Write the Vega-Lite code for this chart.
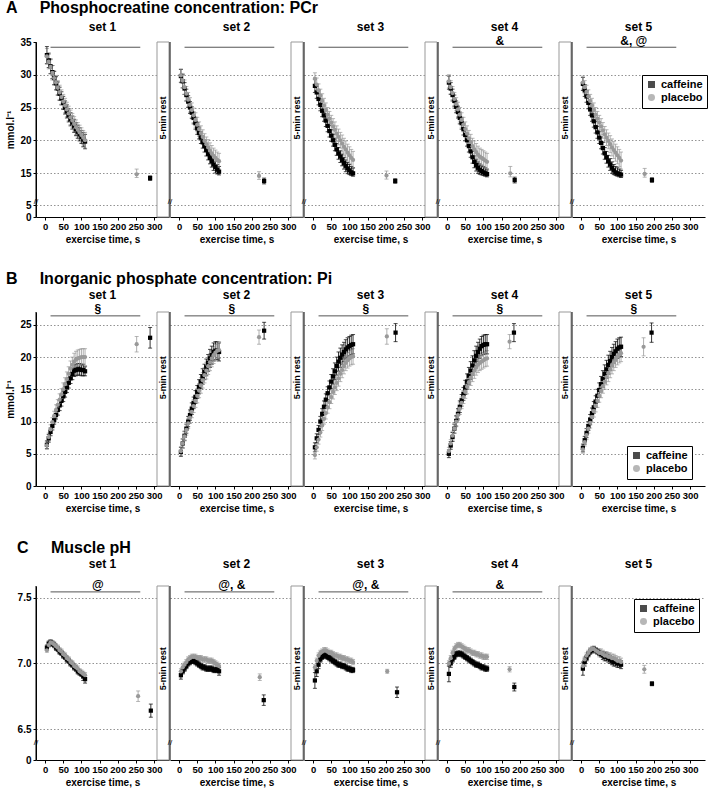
{
"$schema":"https://vega.github.io/schema/vega-lite/v6.json",
"padding":{"left":5,"top":0,"right":0,"bottom":0},
"datasets":{
"pcr":[
{"s":1,"k":"p","box":1,"bar":1,"sig":""},{"s":2,"k":"p","box":1,"bar":1,"sig":""},{"s":3,"k":"p","box":1,"bar":1,"sig":""},{"s":4,"k":"p","box":1,"bar":1,"sig":"&"},{"s":5,"k":"p","box":0,"bar":1,"sig":"&, @"},
{"s":1,"g":"caffeine","t":5,"v":33.0,"e":1.3},{"s":1,"g":"caffeine","t":10,"v":32.2,"e":1.1},{"s":1,"g":"caffeine","t":15,"v":31.3,"e":1.1},{"s":1,"g":"caffeine","t":20,"v":30.4,"e":1.0},{"s":1,"g":"caffeine","t":25,"v":29.5,"e":1.0},{"s":1,"g":"caffeine","t":30,"v":28.7,"e":1.0},{"s":1,"g":"caffeine","t":35,"v":27.9,"e":1.0},{"s":1,"g":"caffeine","t":40,"v":27.1,"e":1.0},{"s":1,"g":"caffeine","t":45,"v":26.4,"e":1.0},{"s":1,"g":"caffeine","t":50,"v":25.7,"e":1.0},{"s":1,"g":"caffeine","t":55,"v":25.0,"e":1.0},{"s":1,"g":"caffeine","t":60,"v":24.4,"e":1.0},{"s":1,"g":"caffeine","t":65,"v":23.8,"e":1.0},{"s":1,"g":"caffeine","t":70,"v":23.2,"e":1.0},{"s":1,"g":"caffeine","t":75,"v":22.7,"e":1.0},{"s":1,"g":"caffeine","t":80,"v":22.2,"e":1.0},{"s":1,"g":"caffeine","t":85,"v":21.7,"e":1.0},{"s":1,"g":"caffeine","t":90,"v":21.3,"e":1.0},{"s":1,"g":"caffeine","t":95,"v":20.9,"e":1.0},{"s":1,"g":"caffeine","t":100,"v":20.5,"e":1.0},{"s":1,"g":"caffeine","t":105,"v":20.1,"e":1.1},{"s":1,"g":"caffeine","t":110,"v":19.8,"e":1.1},{"s":1,"g":"caffeine","t":289,"v":13.4,"e":0.7},
{"s":1,"g":"placebo","t":5,"v":32.8,"e":1.2},{"s":1,"g":"placebo","t":10,"v":32.0,"e":1.1},{"s":1,"g":"placebo","t":15,"v":31.2,"e":1.1},{"s":1,"g":"placebo","t":20,"v":30.3,"e":1.1},{"s":1,"g":"placebo","t":25,"v":29.5,"e":1.1},{"s":1,"g":"placebo","t":30,"v":28.8,"e":1.1},{"s":1,"g":"placebo","t":35,"v":28.0,"e":1.1},{"s":1,"g":"placebo","t":40,"v":27.3,"e":1.1},{"s":1,"g":"placebo","t":45,"v":26.6,"e":1.1},{"s":1,"g":"placebo","t":50,"v":25.9,"e":1.1},{"s":1,"g":"placebo","t":55,"v":25.3,"e":1.1},{"s":1,"g":"placebo","t":60,"v":24.7,"e":1.1},{"s":1,"g":"placebo","t":65,"v":24.1,"e":1.1},{"s":1,"g":"placebo","t":70,"v":23.5,"e":1.1},{"s":1,"g":"placebo","t":75,"v":23.0,"e":1.1},{"s":1,"g":"placebo","t":80,"v":22.5,"e":1.1},{"s":1,"g":"placebo","t":85,"v":22.0,"e":1.1},{"s":1,"g":"placebo","t":90,"v":21.6,"e":1.1},{"s":1,"g":"placebo","t":95,"v":21.2,"e":1.1},{"s":1,"g":"placebo","t":100,"v":20.8,"e":1.1},{"s":1,"g":"placebo","t":105,"v":20.4,"e":1.1},{"s":1,"g":"placebo","t":110,"v":20.0,"e":1.2},{"s":1,"g":"placebo","t":252,"v":14.6,"e":1.0},
{"s":2,"g":"caffeine","t":5,"v":29.8,"e":1.0},{"s":2,"g":"caffeine","t":10,"v":29.0,"e":1.0},{"s":2,"g":"caffeine","t":15,"v":27.9,"e":0.9},{"s":2,"g":"caffeine","t":20,"v":26.9,"e":0.9},{"s":2,"g":"caffeine","t":25,"v":25.9,"e":0.9},{"s":2,"g":"caffeine","t":30,"v":25.0,"e":0.9},{"s":2,"g":"caffeine","t":35,"v":24.2,"e":0.9},{"s":2,"g":"caffeine","t":40,"v":23.4,"e":0.9},{"s":2,"g":"caffeine","t":45,"v":22.6,"e":0.9},{"s":2,"g":"caffeine","t":50,"v":21.8,"e":0.9},{"s":2,"g":"caffeine","t":55,"v":21.1,"e":0.9},{"s":2,"g":"caffeine","t":60,"v":20.4,"e":0.9},{"s":2,"g":"caffeine","t":65,"v":19.7,"e":0.9},{"s":2,"g":"caffeine","t":70,"v":19.1,"e":0.9},{"s":2,"g":"caffeine","t":75,"v":18.5,"e":0.9},{"s":2,"g":"caffeine","t":80,"v":17.9,"e":0.9},{"s":2,"g":"caffeine","t":85,"v":17.3,"e":0.9},{"s":2,"g":"caffeine","t":90,"v":16.8,"e":0.9},{"s":2,"g":"caffeine","t":95,"v":16.3,"e":0.9},{"s":2,"g":"caffeine","t":100,"v":15.9,"e":0.9},{"s":2,"g":"caffeine","t":105,"v":15.5,"e":0.8},{"s":2,"g":"caffeine","t":110,"v":15.2,"e":0.8},{"s":2,"g":"caffeine","t":234,"v":12.5,"e":0.9},
{"s":2,"g":"placebo","t":5,"v":29.9,"e":1.0},{"s":2,"g":"placebo","t":10,"v":29.1,"e":1.1},{"s":2,"g":"placebo","t":15,"v":28.1,"e":1.1},{"s":2,"g":"placebo","t":20,"v":27.1,"e":1.1},{"s":2,"g":"placebo","t":25,"v":26.2,"e":1.1},{"s":2,"g":"placebo","t":30,"v":25.4,"e":1.1},{"s":2,"g":"placebo","t":35,"v":24.6,"e":1.1},{"s":2,"g":"placebo","t":40,"v":23.8,"e":1.1},{"s":2,"g":"placebo","t":45,"v":23.1,"e":1.1},{"s":2,"g":"placebo","t":50,"v":22.4,"e":1.1},{"s":2,"g":"placebo","t":55,"v":21.7,"e":1.1},{"s":2,"g":"placebo","t":60,"v":21.1,"e":1.1},{"s":2,"g":"placebo","t":65,"v":20.5,"e":1.1},{"s":2,"g":"placebo","t":70,"v":19.9,"e":1.1},{"s":2,"g":"placebo","t":75,"v":19.4,"e":1.1},{"s":2,"g":"placebo","t":80,"v":18.9,"e":1.2},{"s":2,"g":"placebo","t":85,"v":18.4,"e":1.2},{"s":2,"g":"placebo","t":90,"v":18.0,"e":1.2},{"s":2,"g":"placebo","t":95,"v":17.6,"e":1.2},{"s":2,"g":"placebo","t":100,"v":17.3,"e":1.2},{"s":2,"g":"placebo","t":105,"v":17.0,"e":1.2},{"s":2,"g":"placebo","t":110,"v":16.8,"e":1.2},{"s":2,"g":"placebo","t":220,"v":14.1,"e":1.1},
{"s":3,"g":"caffeine","t":5,"v":28.3,"e":1.0},{"s":3,"g":"caffeine","t":10,"v":27.3,"e":0.9},{"s":3,"g":"caffeine","t":15,"v":26.3,"e":0.9},{"s":3,"g":"caffeine","t":20,"v":25.4,"e":0.9},{"s":3,"g":"caffeine","t":25,"v":24.5,"e":0.9},{"s":3,"g":"caffeine","t":30,"v":23.8,"e":0.9},{"s":3,"g":"caffeine","t":35,"v":23.0,"e":0.9},{"s":3,"g":"caffeine","t":40,"v":22.2,"e":0.9},{"s":3,"g":"caffeine","t":45,"v":21.4,"e":0.9},{"s":3,"g":"caffeine","t":50,"v":20.7,"e":0.9},{"s":3,"g":"caffeine","t":55,"v":20.0,"e":0.9},{"s":3,"g":"caffeine","t":60,"v":19.3,"e":0.9},{"s":3,"g":"caffeine","t":65,"v":18.6,"e":0.9},{"s":3,"g":"caffeine","t":70,"v":18.0,"e":0.9},{"s":3,"g":"caffeine","t":75,"v":17.5,"e":0.9},{"s":3,"g":"caffeine","t":80,"v":17.0,"e":0.9},{"s":3,"g":"caffeine","t":85,"v":16.5,"e":0.9},{"s":3,"g":"caffeine","t":90,"v":16.1,"e":0.9},{"s":3,"g":"caffeine","t":95,"v":15.7,"e":0.9},{"s":3,"g":"caffeine","t":100,"v":15.4,"e":0.9},{"s":3,"g":"caffeine","t":105,"v":15.1,"e":0.9},{"s":3,"g":"caffeine","t":110,"v":14.9,"e":0.9},{"s":3,"g":"caffeine","t":226,"v":12.5,"e":0.7},
{"s":3,"g":"placebo","t":5,"v":29.4,"e":0.9},{"s":3,"g":"placebo","t":10,"v":28.5,"e":1.0},{"s":3,"g":"placebo","t":15,"v":27.6,"e":1.0},{"s":3,"g":"placebo","t":20,"v":26.8,"e":1.0},{"s":3,"g":"placebo","t":25,"v":26.0,"e":1.1},{"s":3,"g":"placebo","t":30,"v":25.3,"e":1.1},{"s":3,"g":"placebo","t":35,"v":24.6,"e":1.1},{"s":3,"g":"placebo","t":40,"v":23.9,"e":1.1},{"s":3,"g":"placebo","t":45,"v":23.3,"e":1.1},{"s":3,"g":"placebo","t":50,"v":22.7,"e":1.1},{"s":3,"g":"placebo","t":55,"v":22.1,"e":1.2},{"s":3,"g":"placebo","t":60,"v":21.6,"e":1.2},{"s":3,"g":"placebo","t":65,"v":21.0,"e":1.2},{"s":3,"g":"placebo","t":70,"v":20.5,"e":1.2},{"s":3,"g":"placebo","t":75,"v":20.0,"e":1.2},{"s":3,"g":"placebo","t":80,"v":19.5,"e":1.3},{"s":3,"g":"placebo","t":85,"v":19.0,"e":1.3},{"s":3,"g":"placebo","t":90,"v":18.6,"e":1.3},{"s":3,"g":"placebo","t":95,"v":18.1,"e":1.3},{"s":3,"g":"placebo","t":100,"v":17.7,"e":1.3},{"s":3,"g":"placebo","t":105,"v":17.3,"e":1.3},{"s":3,"g":"placebo","t":110,"v":17.0,"e":1.3},{"s":3,"g":"placebo","t":202,"v":14.2,"e":1.1},
{"s":4,"g":"caffeine","t":5,"v":28.8,"e":1.0},{"s":4,"g":"caffeine","t":10,"v":27.9,"e":0.9},{"s":4,"g":"caffeine","t":15,"v":26.9,"e":0.9},{"s":4,"g":"caffeine","t":20,"v":26.0,"e":0.9},{"s":4,"g":"caffeine","t":25,"v":25.1,"e":0.9},{"s":4,"g":"caffeine","t":30,"v":24.3,"e":0.9},{"s":4,"g":"caffeine","t":35,"v":23.4,"e":0.9},{"s":4,"g":"caffeine","t":40,"v":22.6,"e":0.9},{"s":4,"g":"caffeine","t":45,"v":21.7,"e":0.9},{"s":4,"g":"caffeine","t":50,"v":20.8,"e":0.9},{"s":4,"g":"caffeine","t":55,"v":20.0,"e":0.9},{"s":4,"g":"caffeine","t":60,"v":19.1,"e":0.9},{"s":4,"g":"caffeine","t":65,"v":18.3,"e":0.9},{"s":4,"g":"caffeine","t":70,"v":17.4,"e":0.9},{"s":4,"g":"caffeine","t":75,"v":16.7,"e":0.9},{"s":4,"g":"caffeine","t":80,"v":16.2,"e":0.9},{"s":4,"g":"caffeine","t":85,"v":15.8,"e":0.9},{"s":4,"g":"caffeine","t":90,"v":15.5,"e":0.9},{"s":4,"g":"caffeine","t":95,"v":15.3,"e":0.9},{"s":4,"g":"caffeine","t":100,"v":15.1,"e":0.9},{"s":4,"g":"caffeine","t":105,"v":14.9,"e":0.9},{"s":4,"g":"caffeine","t":110,"v":14.7,"e":0.9},{"s":4,"g":"caffeine","t":186,"v":12.8,"e":0.9},
{"s":4,"g":"placebo","t":5,"v":29.0,"e":1.0},{"s":4,"g":"placebo","t":10,"v":28.1,"e":1.0},{"s":4,"g":"placebo","t":15,"v":27.2,"e":1.0},{"s":4,"g":"placebo","t":20,"v":26.3,"e":1.0},{"s":4,"g":"placebo","t":25,"v":25.5,"e":1.0},{"s":4,"g":"placebo","t":30,"v":24.7,"e":1.1},{"s":4,"g":"placebo","t":35,"v":23.9,"e":1.1},{"s":4,"g":"placebo","t":40,"v":23.1,"e":1.1},{"s":4,"g":"placebo","t":45,"v":22.4,"e":1.1},{"s":4,"g":"placebo","t":50,"v":21.7,"e":1.1},{"s":4,"g":"placebo","t":55,"v":21.0,"e":1.2},{"s":4,"g":"placebo","t":60,"v":20.3,"e":1.2},{"s":4,"g":"placebo","t":65,"v":19.7,"e":1.2},{"s":4,"g":"placebo","t":70,"v":19.1,"e":1.2},{"s":4,"g":"placebo","t":75,"v":18.6,"e":1.3},{"s":4,"g":"placebo","t":80,"v":18.2,"e":1.3},{"s":4,"g":"placebo","t":85,"v":17.8,"e":1.3},{"s":4,"g":"placebo","t":90,"v":17.5,"e":1.3},{"s":4,"g":"placebo","t":95,"v":17.3,"e":1.3},{"s":4,"g":"placebo","t":100,"v":17.1,"e":1.3},{"s":4,"g":"placebo","t":105,"v":16.9,"e":1.3},{"s":4,"g":"placebo","t":110,"v":16.7,"e":1.3},{"s":4,"g":"placebo","t":174,"v":14.9,"e":1.1},
{"s":5,"g":"caffeine","t":5,"v":28.6,"e":1.0},{"s":5,"g":"caffeine","t":10,"v":27.6,"e":0.9},{"s":5,"g":"caffeine","t":15,"v":26.7,"e":0.9},{"s":5,"g":"caffeine","t":20,"v":25.7,"e":0.9},{"s":5,"g":"caffeine","t":25,"v":24.7,"e":0.9},{"s":5,"g":"caffeine","t":30,"v":23.8,"e":0.9},{"s":5,"g":"caffeine","t":35,"v":22.9,"e":0.9},{"s":5,"g":"caffeine","t":40,"v":22.0,"e":0.9},{"s":5,"g":"caffeine","t":45,"v":21.2,"e":0.9},{"s":5,"g":"caffeine","t":50,"v":20.4,"e":0.9},{"s":5,"g":"caffeine","t":55,"v":19.6,"e":0.9},{"s":5,"g":"caffeine","t":60,"v":18.8,"e":0.9},{"s":5,"g":"caffeine","t":65,"v":18.0,"e":0.9},{"s":5,"g":"caffeine","t":70,"v":17.4,"e":0.9},{"s":5,"g":"caffeine","t":75,"v":16.8,"e":0.9},{"s":5,"g":"caffeine","t":80,"v":16.3,"e":0.9},{"s":5,"g":"caffeine","t":85,"v":15.8,"e":0.9},{"s":5,"g":"caffeine","t":90,"v":15.4,"e":0.9},{"s":5,"g":"caffeine","t":95,"v":15.1,"e":0.9},{"s":5,"g":"caffeine","t":100,"v":14.9,"e":0.9},{"s":5,"g":"caffeine","t":105,"v":14.7,"e":0.9},{"s":5,"g":"caffeine","t":110,"v":14.5,"e":0.9},{"s":5,"g":"caffeine","t":195,"v":12.8,"e":0.7},
{"s":5,"g":"placebo","t":5,"v":28.8,"e":1.0},{"s":5,"g":"placebo","t":10,"v":28.1,"e":1.0},{"s":5,"g":"placebo","t":15,"v":27.4,"e":1.0},{"s":5,"g":"placebo","t":20,"v":26.7,"e":1.0},{"s":5,"g":"placebo","t":25,"v":26.0,"e":1.0},{"s":5,"g":"placebo","t":30,"v":25.3,"e":1.1},{"s":5,"g":"placebo","t":35,"v":24.6,"e":1.1},{"s":5,"g":"placebo","t":40,"v":23.9,"e":1.1},{"s":5,"g":"placebo","t":45,"v":23.3,"e":1.1},{"s":5,"g":"placebo","t":50,"v":22.7,"e":1.1},{"s":5,"g":"placebo","t":55,"v":22.1,"e":1.2},{"s":5,"g":"placebo","t":60,"v":21.5,"e":1.2},{"s":5,"g":"placebo","t":65,"v":20.9,"e":1.2},{"s":5,"g":"placebo","t":70,"v":20.4,"e":1.2},{"s":5,"g":"placebo","t":75,"v":19.9,"e":1.2},{"s":5,"g":"placebo","t":80,"v":19.4,"e":1.3},{"s":5,"g":"placebo","t":85,"v":18.9,"e":1.3},{"s":5,"g":"placebo","t":90,"v":18.5,"e":1.3},{"s":5,"g":"placebo","t":95,"v":18.1,"e":1.3},{"s":5,"g":"placebo","t":100,"v":17.7,"e":1.3},{"s":5,"g":"placebo","t":105,"v":17.3,"e":1.3},{"s":5,"g":"placebo","t":110,"v":16.9,"e":1.3},{"s":5,"g":"placebo","t":175,"v":14.7,"e":1.0}
],
"pi":[
{"s":1,"k":"p","box":1,"bar":1,"sig":"§"},{"s":2,"k":"p","box":1,"bar":1,"sig":"§"},{"s":3,"k":"p","box":1,"bar":1,"sig":"§"},{"s":4,"k":"p","box":1,"bar":1,"sig":"§"},{"s":5,"k":"p","box":0,"bar":1,"sig":"§"},
{"s":1,"g":"caffeine","t":5,"v":6.4,"e":0.6},{"s":1,"g":"caffeine","t":10,"v":7.4,"e":0.6},{"s":1,"g":"caffeine","t":15,"v":8.4,"e":0.6},{"s":1,"g":"caffeine","t":20,"v":9.3,"e":0.6},{"s":1,"g":"caffeine","t":25,"v":10.2,"e":0.6},{"s":1,"g":"caffeine","t":30,"v":11.0,"e":0.6},{"s":1,"g":"caffeine","t":35,"v":11.8,"e":0.8},{"s":1,"g":"caffeine","t":40,"v":12.5,"e":0.8},{"s":1,"g":"caffeine","t":45,"v":13.2,"e":0.8},{"s":1,"g":"caffeine","t":50,"v":13.9,"e":0.8},{"s":1,"g":"caffeine","t":55,"v":14.6,"e":0.8},{"s":1,"g":"caffeine","t":60,"v":15.3,"e":0.8},{"s":1,"g":"caffeine","t":65,"v":16.0,"e":0.8},{"s":1,"g":"caffeine","t":70,"v":16.7,"e":0.8},{"s":1,"g":"caffeine","t":75,"v":17.4,"e":0.9},{"s":1,"g":"caffeine","t":80,"v":17.9,"e":0.9},{"s":1,"g":"caffeine","t":85,"v":18.0,"e":0.9},{"s":1,"g":"caffeine","t":90,"v":18.1,"e":0.9},{"s":1,"g":"caffeine","t":95,"v":18.1,"e":0.9},{"s":1,"g":"caffeine","t":100,"v":18.0,"e":0.9},{"s":1,"g":"caffeine","t":105,"v":18.0,"e":0.9},{"s":1,"g":"caffeine","t":110,"v":17.8,"e":0.7},{"s":1,"g":"caffeine","t":289,"v":23.0,"e":1.6},
{"s":1,"g":"placebo","t":5,"v":6.3,"e":0.6},{"s":1,"g":"placebo","t":10,"v":7.6,"e":0.6},{"s":1,"g":"placebo","t":15,"v":8.8,"e":0.7},{"s":1,"g":"placebo","t":20,"v":9.9,"e":0.7},{"s":1,"g":"placebo","t":25,"v":10.9,"e":0.7},{"s":1,"g":"placebo","t":30,"v":11.8,"e":0.8},{"s":1,"g":"placebo","t":35,"v":12.6,"e":0.8},{"s":1,"g":"placebo","t":40,"v":13.4,"e":0.9},{"s":1,"g":"placebo","t":45,"v":14.2,"e":0.9},{"s":1,"g":"placebo","t":50,"v":15.0,"e":1.0},{"s":1,"g":"placebo","t":55,"v":15.8,"e":1.0},{"s":1,"g":"placebo","t":60,"v":16.6,"e":1.1},{"s":1,"g":"placebo","t":65,"v":17.4,"e":1.1},{"s":1,"g":"placebo","t":70,"v":18.2,"e":1.2},{"s":1,"g":"placebo","t":75,"v":18.8,"e":1.2},{"s":1,"g":"placebo","t":80,"v":19.3,"e":1.3},{"s":1,"g":"placebo","t":85,"v":19.6,"e":1.3},{"s":1,"g":"placebo","t":90,"v":19.8,"e":1.3},{"s":1,"g":"placebo","t":95,"v":19.9,"e":1.3},{"s":1,"g":"placebo","t":100,"v":20.0,"e":1.3},{"s":1,"g":"placebo","t":105,"v":20.0,"e":1.3},{"s":1,"g":"placebo","t":110,"v":20.0,"e":1.3},{"s":1,"g":"placebo","t":252,"v":22.0,"e":1.2},
{"s":2,"g":"caffeine","t":5,"v":5.3,"e":0.7},{"s":2,"g":"caffeine","t":10,"v":6.6,"e":0.7},{"s":2,"g":"caffeine","t":15,"v":7.8,"e":0.7},{"s":2,"g":"caffeine","t":20,"v":8.9,"e":0.7},{"s":2,"g":"caffeine","t":25,"v":10.0,"e":0.8},{"s":2,"g":"caffeine","t":30,"v":11.0,"e":0.8},{"s":2,"g":"caffeine","t":35,"v":12.0,"e":0.9},{"s":2,"g":"caffeine","t":40,"v":12.9,"e":0.9},{"s":2,"g":"caffeine","t":45,"v":13.8,"e":1.0},{"s":2,"g":"caffeine","t":50,"v":14.6,"e":1.0},{"s":2,"g":"caffeine","t":55,"v":15.4,"e":1.1},{"s":2,"g":"caffeine","t":60,"v":16.2,"e":1.1},{"s":2,"g":"caffeine","t":65,"v":17.0,"e":1.2},{"s":2,"g":"caffeine","t":70,"v":17.7,"e":1.2},{"s":2,"g":"caffeine","t":75,"v":18.4,"e":1.3},{"s":2,"g":"caffeine","t":80,"v":19.1,"e":1.3},{"s":2,"g":"caffeine","t":85,"v":19.8,"e":1.4},{"s":2,"g":"caffeine","t":90,"v":20.3,"e":1.4},{"s":2,"g":"caffeine","t":95,"v":20.8,"e":1.4},{"s":2,"g":"caffeine","t":100,"v":21.0,"e":1.4},{"s":2,"g":"caffeine","t":105,"v":21.0,"e":1.4},{"s":2,"g":"caffeine","t":110,"v":20.8,"e":1.4},{"s":2,"g":"caffeine","t":234,"v":24.1,"e":1.3},
{"s":2,"g":"placebo","t":5,"v":5.4,"e":0.7},{"s":2,"g":"placebo","t":10,"v":6.6,"e":0.7},{"s":2,"g":"placebo","t":15,"v":7.7,"e":0.7},{"s":2,"g":"placebo","t":20,"v":8.7,"e":0.8},{"s":2,"g":"placebo","t":25,"v":9.7,"e":0.8},{"s":2,"g":"placebo","t":30,"v":10.6,"e":0.9},{"s":2,"g":"placebo","t":35,"v":11.5,"e":0.9},{"s":2,"g":"placebo","t":40,"v":12.4,"e":1.0},{"s":2,"g":"placebo","t":45,"v":13.2,"e":1.0},{"s":2,"g":"placebo","t":50,"v":14.0,"e":1.1},{"s":2,"g":"placebo","t":55,"v":14.8,"e":1.1},{"s":2,"g":"placebo","t":60,"v":15.6,"e":1.2},{"s":2,"g":"placebo","t":65,"v":16.4,"e":1.2},{"s":2,"g":"placebo","t":70,"v":17.2,"e":1.2},{"s":2,"g":"placebo","t":75,"v":17.9,"e":1.3},{"s":2,"g":"placebo","t":80,"v":18.6,"e":1.3},{"s":2,"g":"placebo","t":85,"v":19.2,"e":1.3},{"s":2,"g":"placebo","t":90,"v":19.8,"e":1.3},{"s":2,"g":"placebo","t":95,"v":20.3,"e":1.3},{"s":2,"g":"placebo","t":100,"v":20.7,"e":1.3},{"s":2,"g":"placebo","t":105,"v":21.0,"e":1.3},{"s":2,"g":"placebo","t":110,"v":21.1,"e":1.3},{"s":2,"g":"placebo","t":220,"v":23.1,"e":1.1},
{"s":3,"g":"caffeine","t":5,"v":6.0,"e":0.7},{"s":3,"g":"caffeine","t":10,"v":7.4,"e":0.7},{"s":3,"g":"caffeine","t":15,"v":8.7,"e":0.7},{"s":3,"g":"caffeine","t":20,"v":10.0,"e":0.8},{"s":3,"g":"caffeine","t":25,"v":11.2,"e":0.8},{"s":3,"g":"caffeine","t":30,"v":12.3,"e":0.9},{"s":3,"g":"caffeine","t":35,"v":13.4,"e":0.9},{"s":3,"g":"caffeine","t":40,"v":14.4,"e":1.0},{"s":3,"g":"caffeine","t":45,"v":15.3,"e":1.0},{"s":3,"g":"caffeine","t":50,"v":16.2,"e":1.1},{"s":3,"g":"caffeine","t":55,"v":17.0,"e":1.2},{"s":3,"g":"caffeine","t":60,"v":17.8,"e":1.3},{"s":3,"g":"caffeine","t":65,"v":18.6,"e":1.4},{"s":3,"g":"caffeine","t":70,"v":19.3,"e":1.5},{"s":3,"g":"caffeine","t":75,"v":19.9,"e":1.5},{"s":3,"g":"caffeine","t":80,"v":20.4,"e":1.5},{"s":3,"g":"caffeine","t":85,"v":20.8,"e":1.5},{"s":3,"g":"caffeine","t":90,"v":21.2,"e":1.5},{"s":3,"g":"caffeine","t":95,"v":21.5,"e":1.5},{"s":3,"g":"caffeine","t":100,"v":21.7,"e":1.5},{"s":3,"g":"caffeine","t":105,"v":21.9,"e":1.5},{"s":3,"g":"caffeine","t":110,"v":22.0,"e":1.5},{"s":3,"g":"caffeine","t":227,"v":23.8,"e":1.4},
{"s":3,"g":"placebo","t":5,"v":4.8,"e":0.6},{"s":3,"g":"placebo","t":10,"v":6.0,"e":0.6},{"s":3,"g":"placebo","t":15,"v":7.2,"e":0.7},{"s":3,"g":"placebo","t":20,"v":8.3,"e":0.7},{"s":3,"g":"placebo","t":25,"v":9.4,"e":0.8},{"s":3,"g":"placebo","t":30,"v":10.4,"e":0.8},{"s":3,"g":"placebo","t":35,"v":11.3,"e":0.9},{"s":3,"g":"placebo","t":40,"v":12.2,"e":0.9},{"s":3,"g":"placebo","t":45,"v":13.0,"e":1.0},{"s":3,"g":"placebo","t":50,"v":13.8,"e":1.0},{"s":3,"g":"placebo","t":55,"v":14.6,"e":1.1},{"s":3,"g":"placebo","t":60,"v":15.3,"e":1.1},{"s":3,"g":"placebo","t":65,"v":16.0,"e":1.2},{"s":3,"g":"placebo","t":70,"v":16.7,"e":1.2},{"s":3,"g":"placebo","t":75,"v":17.4,"e":1.2},{"s":3,"g":"placebo","t":80,"v":18.0,"e":1.2},{"s":3,"g":"placebo","t":85,"v":18.6,"e":1.2},{"s":3,"g":"placebo","t":90,"v":19.1,"e":1.2},{"s":3,"g":"placebo","t":95,"v":19.5,"e":1.2},{"s":3,"g":"placebo","t":100,"v":19.8,"e":1.2},{"s":3,"g":"placebo","t":105,"v":20.0,"e":1.2},{"s":3,"g":"placebo","t":110,"v":20.1,"e":1.2},{"s":3,"g":"placebo","t":203,"v":23.2,"e":1.2},
{"s":4,"g":"caffeine","t":5,"v":5.0,"e":0.6},{"s":4,"g":"caffeine","t":10,"v":6.3,"e":0.6},{"s":4,"g":"caffeine","t":15,"v":7.6,"e":0.7},{"s":4,"g":"caffeine","t":20,"v":8.9,"e":0.7},{"s":4,"g":"caffeine","t":25,"v":10.1,"e":0.8},{"s":4,"g":"caffeine","t":30,"v":11.2,"e":0.8},{"s":4,"g":"caffeine","t":35,"v":12.3,"e":0.9},{"s":4,"g":"caffeine","t":40,"v":13.3,"e":0.9},{"s":4,"g":"caffeine","t":45,"v":14.3,"e":1.0},{"s":4,"g":"caffeine","t":50,"v":15.3,"e":1.1},{"s":4,"g":"caffeine","t":55,"v":16.2,"e":1.2},{"s":4,"g":"caffeine","t":60,"v":17.1,"e":1.3},{"s":4,"g":"caffeine","t":65,"v":17.9,"e":1.4},{"s":4,"g":"caffeine","t":70,"v":18.7,"e":1.5},{"s":4,"g":"caffeine","t":75,"v":19.5,"e":1.5},{"s":4,"g":"caffeine","t":80,"v":20.2,"e":1.5},{"s":4,"g":"caffeine","t":85,"v":20.8,"e":1.5},{"s":4,"g":"caffeine","t":90,"v":21.3,"e":1.5},{"s":4,"g":"caffeine","t":95,"v":21.7,"e":1.5},{"s":4,"g":"caffeine","t":100,"v":21.9,"e":1.5},{"s":4,"g":"caffeine","t":105,"v":22.0,"e":1.5},{"s":4,"g":"caffeine","t":110,"v":22.0,"e":1.5},{"s":4,"g":"caffeine","t":184,"v":23.8,"e":1.4},
{"s":4,"g":"placebo","t":5,"v":5.4,"e":0.6},{"s":4,"g":"placebo","t":10,"v":6.6,"e":0.6},{"s":4,"g":"placebo","t":15,"v":7.8,"e":0.7},{"s":4,"g":"placebo","t":20,"v":8.9,"e":0.7},{"s":4,"g":"placebo","t":25,"v":10.0,"e":0.8},{"s":4,"g":"placebo","t":30,"v":11.0,"e":0.8},{"s":4,"g":"placebo","t":35,"v":12.0,"e":0.9},{"s":4,"g":"placebo","t":40,"v":12.9,"e":0.9},{"s":4,"g":"placebo","t":45,"v":13.8,"e":1.0},{"s":4,"g":"placebo","t":50,"v":14.6,"e":1.0},{"s":4,"g":"placebo","t":55,"v":15.4,"e":1.1},{"s":4,"g":"placebo","t":60,"v":16.1,"e":1.1},{"s":4,"g":"placebo","t":65,"v":16.8,"e":1.2},{"s":4,"g":"placebo","t":70,"v":17.4,"e":1.2},{"s":4,"g":"placebo","t":75,"v":17.9,"e":1.2},{"s":4,"g":"placebo","t":80,"v":18.4,"e":1.2},{"s":4,"g":"placebo","t":85,"v":18.8,"e":1.2},{"s":4,"g":"placebo","t":90,"v":19.1,"e":1.2},{"s":4,"g":"placebo","t":95,"v":19.3,"e":1.2},{"s":4,"g":"placebo","t":100,"v":19.5,"e":1.2},{"s":4,"g":"placebo","t":105,"v":19.7,"e":1.2},{"s":4,"g":"placebo","t":110,"v":19.8,"e":1.2},{"s":4,"g":"placebo","t":172,"v":22.4,"e":1.1},
{"s":5,"g":"caffeine","t":5,"v":5.9,"e":0.6},{"s":5,"g":"caffeine","t":10,"v":7.1,"e":0.6},{"s":5,"g":"caffeine","t":15,"v":8.2,"e":0.7},{"s":5,"g":"caffeine","t":20,"v":9.3,"e":0.7},{"s":5,"g":"caffeine","t":25,"v":10.3,"e":0.8},{"s":5,"g":"caffeine","t":30,"v":11.3,"e":0.8},{"s":5,"g":"caffeine","t":35,"v":12.2,"e":0.9},{"s":5,"g":"caffeine","t":40,"v":13.1,"e":0.9},{"s":5,"g":"caffeine","t":45,"v":14.0,"e":1.0},{"s":5,"g":"caffeine","t":50,"v":14.9,"e":1.1},{"s":5,"g":"caffeine","t":55,"v":15.8,"e":1.2},{"s":5,"g":"caffeine","t":60,"v":16.6,"e":1.3},{"s":5,"g":"caffeine","t":65,"v":17.4,"e":1.4},{"s":5,"g":"caffeine","t":70,"v":18.1,"e":1.4},{"s":5,"g":"caffeine","t":75,"v":18.8,"e":1.5},{"s":5,"g":"caffeine","t":80,"v":19.4,"e":1.5},{"s":5,"g":"caffeine","t":85,"v":20.0,"e":1.5},{"s":5,"g":"caffeine","t":90,"v":20.5,"e":1.5},{"s":5,"g":"caffeine","t":95,"v":20.9,"e":1.5},{"s":5,"g":"caffeine","t":100,"v":21.3,"e":1.5},{"s":5,"g":"caffeine","t":105,"v":21.5,"e":1.5},{"s":5,"g":"caffeine","t":110,"v":21.6,"e":1.5},{"s":5,"g":"caffeine","t":194,"v":23.8,"e":1.5},
{"s":5,"g":"placebo","t":5,"v":5.7,"e":0.6},{"s":5,"g":"placebo","t":10,"v":6.8,"e":0.6},{"s":5,"g":"placebo","t":15,"v":7.9,"e":0.7},{"s":5,"g":"placebo","t":20,"v":8.9,"e":0.7},{"s":5,"g":"placebo","t":25,"v":9.8,"e":0.8},{"s":5,"g":"placebo","t":30,"v":10.7,"e":0.8},{"s":5,"g":"placebo","t":35,"v":11.6,"e":0.9},{"s":5,"g":"placebo","t":40,"v":12.4,"e":0.9},{"s":5,"g":"placebo","t":45,"v":13.2,"e":1.0},{"s":5,"g":"placebo","t":50,"v":14.0,"e":1.0},{"s":5,"g":"placebo","t":55,"v":14.8,"e":1.1},{"s":5,"g":"placebo","t":60,"v":15.5,"e":1.1},{"s":5,"g":"placebo","t":65,"v":16.2,"e":1.2},{"s":5,"g":"placebo","t":70,"v":16.9,"e":1.2},{"s":5,"g":"placebo","t":75,"v":17.5,"e":1.3},{"s":5,"g":"placebo","t":80,"v":18.1,"e":1.3},{"s":5,"g":"placebo","t":85,"v":18.7,"e":1.3},{"s":5,"g":"placebo","t":90,"v":19.2,"e":1.3},{"s":5,"g":"placebo","t":95,"v":19.7,"e":1.3},{"s":5,"g":"placebo","t":100,"v":20.1,"e":1.3},{"s":5,"g":"placebo","t":105,"v":20.4,"e":1.3},{"s":5,"g":"placebo","t":110,"v":20.6,"e":1.3},{"s":5,"g":"placebo","t":172,"v":21.6,"e":1.4}
],
"ph":[
{"s":1,"k":"p","box":1,"bar":1,"sig":"@"},{"s":2,"k":"p","box":1,"bar":1,"sig":"@, &"},{"s":3,"k":"p","box":1,"bar":1,"sig":"@, &"},{"s":4,"k":"p","box":1,"bar":1,"sig":"&"},{"s":5,"k":"p","box":0,"bar":0,"sig":""},
{"s":1,"g":"caffeine","t":5,"v":7.12,"e":0.02},{"s":1,"g":"caffeine","t":10,"v":7.15,"e":0.02},{"s":1,"g":"caffeine","t":15,"v":7.16,"e":0.02},{"s":1,"g":"caffeine","t":20,"v":7.15,"e":0.02},{"s":1,"g":"caffeine","t":25,"v":7.14,"e":0.02},{"s":1,"g":"caffeine","t":30,"v":7.12,"e":0.02},{"s":1,"g":"caffeine","t":35,"v":7.11,"e":0.02},{"s":1,"g":"caffeine","t":40,"v":7.09,"e":0.02},{"s":1,"g":"caffeine","t":45,"v":7.08,"e":0.02},{"s":1,"g":"caffeine","t":50,"v":7.06,"e":0.02},{"s":1,"g":"caffeine","t":55,"v":7.05,"e":0.02},{"s":1,"g":"caffeine","t":60,"v":7.03,"e":0.02},{"s":1,"g":"caffeine","t":65,"v":7.02,"e":0.02},{"s":1,"g":"caffeine","t":70,"v":7.0,"e":0.02},{"s":1,"g":"caffeine","t":75,"v":6.99,"e":0.02},{"s":1,"g":"caffeine","t":80,"v":6.97,"e":0.02},{"s":1,"g":"caffeine","t":85,"v":6.96,"e":0.02},{"s":1,"g":"caffeine","t":90,"v":6.94,"e":0.02},{"s":1,"g":"caffeine","t":95,"v":6.93,"e":0.02},{"s":1,"g":"caffeine","t":100,"v":6.92,"e":0.02},{"s":1,"g":"caffeine","t":105,"v":6.9,"e":0.03},{"s":1,"g":"caffeine","t":110,"v":6.88,"e":0.03},{"s":1,"g":"caffeine","t":291,"v":6.64,"e":0.05},
{"s":1,"g":"placebo","t":5,"v":7.1,"e":0.015},{"s":1,"g":"placebo","t":10,"v":7.14,"e":0.02},{"s":1,"g":"placebo","t":15,"v":7.16,"e":0.02},{"s":1,"g":"placebo","t":20,"v":7.155,"e":0.02},{"s":1,"g":"placebo","t":25,"v":7.145,"e":0.02},{"s":1,"g":"placebo","t":30,"v":7.13,"e":0.02},{"s":1,"g":"placebo","t":35,"v":7.12,"e":0.02},{"s":1,"g":"placebo","t":40,"v":7.1,"e":0.02},{"s":1,"g":"placebo","t":45,"v":7.09,"e":0.02},{"s":1,"g":"placebo","t":50,"v":7.07,"e":0.02},{"s":1,"g":"placebo","t":55,"v":7.06,"e":0.02},{"s":1,"g":"placebo","t":60,"v":7.04,"e":0.02},{"s":1,"g":"placebo","t":65,"v":7.03,"e":0.02},{"s":1,"g":"placebo","t":70,"v":7.01,"e":0.02},{"s":1,"g":"placebo","t":75,"v":7.0,"e":0.02},{"s":1,"g":"placebo","t":80,"v":6.98,"e":0.02},{"s":1,"g":"placebo","t":85,"v":6.97,"e":0.02},{"s":1,"g":"placebo","t":90,"v":6.96,"e":0.02},{"s":1,"g":"placebo","t":95,"v":6.94,"e":0.02},{"s":1,"g":"placebo","t":100,"v":6.93,"e":0.02},{"s":1,"g":"placebo","t":105,"v":6.92,"e":0.02},{"s":1,"g":"placebo","t":110,"v":6.91,"e":0.02},{"s":1,"g":"placebo","t":256,"v":6.75,"e":0.04},
{"s":2,"g":"caffeine","t":5,"v":6.91,"e":0.03},{"s":2,"g":"caffeine","t":10,"v":6.94,"e":0.02},{"s":2,"g":"caffeine","t":15,"v":6.96,"e":0.02},{"s":2,"g":"caffeine","t":20,"v":6.98,"e":0.02},{"s":2,"g":"caffeine","t":25,"v":7.0,"e":0.02},{"s":2,"g":"caffeine","t":30,"v":7.01,"e":0.02},{"s":2,"g":"caffeine","t":35,"v":7.02,"e":0.02},{"s":2,"g":"caffeine","t":40,"v":7.02,"e":0.02},{"s":2,"g":"caffeine","t":45,"v":7.01,"e":0.02},{"s":2,"g":"caffeine","t":50,"v":7.0,"e":0.02},{"s":2,"g":"caffeine","t":55,"v":6.99,"e":0.02},{"s":2,"g":"caffeine","t":60,"v":6.98,"e":0.02},{"s":2,"g":"caffeine","t":65,"v":6.97,"e":0.02},{"s":2,"g":"caffeine","t":70,"v":6.97,"e":0.02},{"s":2,"g":"caffeine","t":75,"v":6.96,"e":0.02},{"s":2,"g":"caffeine","t":80,"v":6.96,"e":0.02},{"s":2,"g":"caffeine","t":85,"v":6.96,"e":0.02},{"s":2,"g":"caffeine","t":90,"v":6.96,"e":0.02},{"s":2,"g":"caffeine","t":95,"v":6.95,"e":0.02},{"s":2,"g":"caffeine","t":100,"v":6.95,"e":0.02},{"s":2,"g":"caffeine","t":105,"v":6.95,"e":0.02},{"s":2,"g":"caffeine","t":110,"v":6.94,"e":0.03},{"s":2,"g":"caffeine","t":233,"v":6.72,"e":0.04},
{"s":2,"g":"placebo","t":5,"v":6.94,"e":0.02},{"s":2,"g":"placebo","t":10,"v":6.97,"e":0.02},{"s":2,"g":"placebo","t":15,"v":6.99,"e":0.02},{"s":2,"g":"placebo","t":20,"v":7.01,"e":0.02},{"s":2,"g":"placebo","t":25,"v":7.03,"e":0.02},{"s":2,"g":"placebo","t":30,"v":7.04,"e":0.02},{"s":2,"g":"placebo","t":35,"v":7.05,"e":0.02},{"s":2,"g":"placebo","t":40,"v":7.05,"e":0.02},{"s":2,"g":"placebo","t":45,"v":7.05,"e":0.02},{"s":2,"g":"placebo","t":50,"v":7.04,"e":0.02},{"s":2,"g":"placebo","t":55,"v":7.04,"e":0.02},{"s":2,"g":"placebo","t":60,"v":7.04,"e":0.02},{"s":2,"g":"placebo","t":65,"v":7.03,"e":0.02},{"s":2,"g":"placebo","t":70,"v":7.03,"e":0.02},{"s":2,"g":"placebo","t":75,"v":7.03,"e":0.02},{"s":2,"g":"placebo","t":80,"v":7.02,"e":0.02},{"s":2,"g":"placebo","t":85,"v":7.02,"e":0.02},{"s":2,"g":"placebo","t":90,"v":7.02,"e":0.02},{"s":2,"g":"placebo","t":95,"v":7.01,"e":0.02},{"s":2,"g":"placebo","t":100,"v":7.0,"e":0.02},{"s":2,"g":"placebo","t":105,"v":6.99,"e":0.02},{"s":2,"g":"placebo","t":110,"v":6.98,"e":0.02},{"s":2,"g":"placebo","t":222,"v":6.895,"e":0.025},
{"s":3,"g":"caffeine","t":5,"v":6.87,"e":0.06},{"s":3,"g":"caffeine","t":10,"v":6.94,"e":0.04},{"s":3,"g":"caffeine","t":15,"v":6.99,"e":0.03},{"s":3,"g":"caffeine","t":20,"v":7.03,"e":0.02},{"s":3,"g":"caffeine","t":25,"v":7.05,"e":0.02},{"s":3,"g":"caffeine","t":30,"v":7.06,"e":0.02},{"s":3,"g":"caffeine","t":35,"v":7.06,"e":0.02},{"s":3,"g":"caffeine","t":40,"v":7.05,"e":0.02},{"s":3,"g":"caffeine","t":45,"v":7.04,"e":0.02},{"s":3,"g":"caffeine","t":50,"v":7.03,"e":0.02},{"s":3,"g":"caffeine","t":55,"v":7.02,"e":0.02},{"s":3,"g":"caffeine","t":60,"v":7.01,"e":0.02},{"s":3,"g":"caffeine","t":65,"v":7.0,"e":0.02},{"s":3,"g":"caffeine","t":70,"v":6.99,"e":0.02},{"s":3,"g":"caffeine","t":75,"v":6.99,"e":0.02},{"s":3,"g":"caffeine","t":80,"v":6.98,"e":0.02},{"s":3,"g":"caffeine","t":85,"v":6.98,"e":0.02},{"s":3,"g":"caffeine","t":90,"v":6.97,"e":0.02},{"s":3,"g":"caffeine","t":95,"v":6.96,"e":0.02},{"s":3,"g":"caffeine","t":100,"v":6.96,"e":0.02},{"s":3,"g":"caffeine","t":105,"v":6.95,"e":0.02},{"s":3,"g":"caffeine","t":110,"v":6.95,"e":0.02},{"s":3,"g":"caffeine","t":231,"v":6.78,"e":0.04},
{"s":3,"g":"placebo","t":5,"v":6.97,"e":0.02},{"s":3,"g":"placebo","t":10,"v":7.02,"e":0.02},{"s":3,"g":"placebo","t":15,"v":7.06,"e":0.02},{"s":3,"g":"placebo","t":20,"v":7.08,"e":0.02},{"s":3,"g":"placebo","t":25,"v":7.09,"e":0.02},{"s":3,"g":"placebo","t":30,"v":7.1,"e":0.02},{"s":3,"g":"placebo","t":35,"v":7.1,"e":0.02},{"s":3,"g":"placebo","t":40,"v":7.09,"e":0.02},{"s":3,"g":"placebo","t":45,"v":7.08,"e":0.02},{"s":3,"g":"placebo","t":50,"v":7.08,"e":0.02},{"s":3,"g":"placebo","t":55,"v":7.07,"e":0.02},{"s":3,"g":"placebo","t":60,"v":7.06,"e":0.02},{"s":3,"g":"placebo","t":65,"v":7.06,"e":0.02},{"s":3,"g":"placebo","t":70,"v":7.05,"e":0.02},{"s":3,"g":"placebo","t":75,"v":7.05,"e":0.02},{"s":3,"g":"placebo","t":80,"v":7.04,"e":0.02},{"s":3,"g":"placebo","t":85,"v":7.04,"e":0.02},{"s":3,"g":"placebo","t":90,"v":7.03,"e":0.02},{"s":3,"g":"placebo","t":95,"v":7.03,"e":0.02},{"s":3,"g":"placebo","t":100,"v":7.02,"e":0.02},{"s":3,"g":"placebo","t":105,"v":7.02,"e":0.02},{"s":3,"g":"placebo","t":110,"v":7.01,"e":0.02},{"s":3,"g":"placebo","t":204,"v":6.94,"e":0.015},
{"s":4,"g":"caffeine","t":5,"v":6.92,"e":0.06},{"s":4,"g":"caffeine","t":10,"v":7.0,"e":0.03},{"s":4,"g":"caffeine","t":15,"v":7.03,"e":0.02},{"s":4,"g":"caffeine","t":20,"v":7.05,"e":0.02},{"s":4,"g":"caffeine","t":25,"v":7.07,"e":0.02},{"s":4,"g":"caffeine","t":30,"v":7.075,"e":0.02},{"s":4,"g":"caffeine","t":35,"v":7.075,"e":0.02},{"s":4,"g":"caffeine","t":40,"v":7.07,"e":0.02},{"s":4,"g":"caffeine","t":45,"v":7.06,"e":0.02},{"s":4,"g":"caffeine","t":50,"v":7.05,"e":0.02},{"s":4,"g":"caffeine","t":55,"v":7.04,"e":0.02},{"s":4,"g":"caffeine","t":60,"v":7.03,"e":0.02},{"s":4,"g":"caffeine","t":65,"v":7.02,"e":0.02},{"s":4,"g":"caffeine","t":70,"v":7.01,"e":0.02},{"s":4,"g":"caffeine","t":75,"v":7.0,"e":0.02},{"s":4,"g":"caffeine","t":80,"v":6.99,"e":0.02},{"s":4,"g":"caffeine","t":85,"v":6.99,"e":0.02},{"s":4,"g":"caffeine","t":90,"v":6.98,"e":0.02},{"s":4,"g":"caffeine","t":95,"v":6.97,"e":0.02},{"s":4,"g":"caffeine","t":100,"v":6.97,"e":0.02},{"s":4,"g":"caffeine","t":105,"v":6.96,"e":0.02},{"s":4,"g":"caffeine","t":110,"v":6.96,"e":0.02},{"s":4,"g":"caffeine","t":185,"v":6.82,"e":0.03},
{"s":4,"g":"placebo","t":5,"v":7.0,"e":0.02},{"s":4,"g":"placebo","t":10,"v":7.04,"e":0.02},{"s":4,"g":"placebo","t":15,"v":7.08,"e":0.02},{"s":4,"g":"placebo","t":20,"v":7.11,"e":0.02},{"s":4,"g":"placebo","t":25,"v":7.13,"e":0.02},{"s":4,"g":"placebo","t":30,"v":7.14,"e":0.02},{"s":4,"g":"placebo","t":35,"v":7.14,"e":0.02},{"s":4,"g":"placebo","t":40,"v":7.13,"e":0.02},{"s":4,"g":"placebo","t":45,"v":7.12,"e":0.02},{"s":4,"g":"placebo","t":50,"v":7.11,"e":0.02},{"s":4,"g":"placebo","t":55,"v":7.1,"e":0.02},{"s":4,"g":"placebo","t":60,"v":7.1,"e":0.02},{"s":4,"g":"placebo","t":65,"v":7.09,"e":0.02},{"s":4,"g":"placebo","t":70,"v":7.08,"e":0.02},{"s":4,"g":"placebo","t":75,"v":7.08,"e":0.02},{"s":4,"g":"placebo","t":80,"v":7.07,"e":0.02},{"s":4,"g":"placebo","t":85,"v":7.07,"e":0.02},{"s":4,"g":"placebo","t":90,"v":7.06,"e":0.02},{"s":4,"g":"placebo","t":95,"v":7.06,"e":0.02},{"s":4,"g":"placebo","t":100,"v":7.05,"e":0.02},{"s":4,"g":"placebo","t":105,"v":7.05,"e":0.02},{"s":4,"g":"placebo","t":110,"v":7.05,"e":0.02},{"s":4,"g":"placebo","t":172,"v":6.955,"e":0.02},
{"s":5,"g":"caffeine","t":5,"v":6.96,"e":0.05},{"s":5,"g":"caffeine","t":10,"v":7.01,"e":0.03},{"s":5,"g":"caffeine","t":15,"v":7.04,"e":0.02},{"s":5,"g":"caffeine","t":20,"v":7.07,"e":0.02},{"s":5,"g":"caffeine","t":25,"v":7.09,"e":0.02},{"s":5,"g":"caffeine","t":30,"v":7.1,"e":0.02},{"s":5,"g":"caffeine","t":35,"v":7.11,"e":0.02},{"s":5,"g":"caffeine","t":40,"v":7.1,"e":0.02},{"s":5,"g":"caffeine","t":45,"v":7.09,"e":0.02},{"s":5,"g":"caffeine","t":50,"v":7.08,"e":0.02},{"s":5,"g":"caffeine","t":55,"v":7.07,"e":0.02},{"s":5,"g":"caffeine","t":60,"v":7.06,"e":0.03},{"s":5,"g":"caffeine","t":65,"v":7.05,"e":0.03},{"s":5,"g":"caffeine","t":70,"v":7.05,"e":0.03},{"s":5,"g":"caffeine","t":75,"v":7.04,"e":0.03},{"s":5,"g":"caffeine","t":80,"v":7.03,"e":0.03},{"s":5,"g":"caffeine","t":85,"v":7.02,"e":0.03},{"s":5,"g":"caffeine","t":90,"v":7.01,"e":0.03},{"s":5,"g":"caffeine","t":95,"v":7.01,"e":0.03},{"s":5,"g":"caffeine","t":100,"v":7.0,"e":0.03},{"s":5,"g":"caffeine","t":105,"v":7.0,"e":0.03},{"s":5,"g":"caffeine","t":110,"v":6.99,"e":0.03},{"s":5,"g":"caffeine","t":195,"v":6.845,"e":0.015},
{"s":5,"g":"placebo","t":5,"v":6.98,"e":0.02},{"s":5,"g":"placebo","t":10,"v":7.03,"e":0.02},{"s":5,"g":"placebo","t":15,"v":7.06,"e":0.02},{"s":5,"g":"placebo","t":20,"v":7.08,"e":0.02},{"s":5,"g":"placebo","t":25,"v":7.1,"e":0.02},{"s":5,"g":"placebo","t":30,"v":7.11,"e":0.02},{"s":5,"g":"placebo","t":35,"v":7.11,"e":0.02},{"s":5,"g":"placebo","t":40,"v":7.1,"e":0.02},{"s":5,"g":"placebo","t":45,"v":7.09,"e":0.02},{"s":5,"g":"placebo","t":50,"v":7.08,"e":0.03},{"s":5,"g":"placebo","t":55,"v":7.08,"e":0.03},{"s":5,"g":"placebo","t":60,"v":7.07,"e":0.03},{"s":5,"g":"placebo","t":65,"v":7.06,"e":0.03},{"s":5,"g":"placebo","t":70,"v":7.06,"e":0.03},{"s":5,"g":"placebo","t":75,"v":7.05,"e":0.03},{"s":5,"g":"placebo","t":80,"v":7.05,"e":0.03},{"s":5,"g":"placebo","t":85,"v":7.04,"e":0.03},{"s":5,"g":"placebo","t":90,"v":7.04,"e":0.03},{"s":5,"g":"placebo","t":95,"v":7.03,"e":0.03},{"s":5,"g":"placebo","t":100,"v":7.02,"e":0.03},{"s":5,"g":"placebo","t":105,"v":7.02,"e":0.03},{"s":5,"g":"placebo","t":110,"v":7.01,"e":0.03},{"s":5,"g":"placebo","t":174,"v":6.955,"e":0.03}
]
},
"vconcat":[
{
"data":{"name":"pcr"},
"title":{"text":"A\u00a0\u00a0\u00a0\u00a0\u00a0Phosphocreatine concentration: PCr","offset":5},
"facet":{"column":{"field":"s","type":"ordinal","title":null,"header":{"labelExpr":"'set ' + datum.value","labelFontSize":12,"labelFontWeight":"bold","labelPadding":8}}},
"spacing":1,
"bounds":"flush",
"spec":{
"width":133,"height":175,
"layer":[
{"transform":[{"filter":"datum.k == 'p'"}],"mark":{"type":"rule","color":"#000","strokeWidth":1},"encoding":{"x":{"datum":-25}}},
{"transform":[{"filter":"datum.box == 1"}],"mark":{"type":"rect","fill":"#fff","stroke":"#999","strokeWidth":1},"encoding":{"x":{"datum":308},"x2":{"datum":341}}},
{"transform":[{"filter":"datum.box == 1"}],"mark":{"type":"text","color":"#000","angle":270,"fontSize":9,"fontWeight":"bold","align":"center","baseline":"middle","text":"5-min rest"},"encoding":{"x":{"datum":324.5},"y":{"datum":23.4}}},
{"transform":[{"filter":"datum.bar == 1"}],"mark":{"type":"rule","color":"#555","strokeWidth":1},"encoding":{"x":{"datum":15},"x2":{"datum":262},"y":{"datum":34.2}}},
{"transform":[{"filter":"datum.k == 'p' && datum.sig != ''"}],"mark":{"type":"text","color":"#000","fontSize":12,"fontWeight":"bold","align":"center","baseline":"alphabetic"},"encoding":{"x":{"datum":145},"y":{"datum":34.5},"text":{"field":"sig"}}},
{"transform":[{"filter":"datum.k == 'p'"}],"mark":{"type":"text","color":"#000","fontSize":8,"align":"center","baseline":"middle","text":"//"},"encoding":{"x":{"datum":-25},"y":{"datum":6}}},
{"transform":[{"filter":"isValid(datum.g)"}],"mark":{"type":"errorbar","ticks":{"size":4},"rule":{"strokeWidth":0.8}},
"encoding":{"x":{"field":"t","type":"quantitative","scale":{"domain":[-25,341],"nice":false,"zero":false},"axis":{"title":"exercise time, s","values":[0,50,100,150,200,250,300],"tickCount":20,"labelOverlap":false}},
"y":{"field":"v","type":"quantitative","scale":{"domain":[0,5,15,35],"range":[175,163,131,0],"nice":false,"zero":false},"axis":{"title":"mmol.l⁻¹","values":[0,5,15,20,25,30,35],"tickCount":20,"labelOverlap":false,"grid":true,"gridColor":{"condition":{"test":"datum.value == 0 || datum.value == 35","value":"transparent"},"value":"#777"}}},
"yError":{"field":"e"},
"color":{"field":"g","type":"nominal","scale":{"domain":["caffeine","placebo"],"range":["#000","#999"]}}}},
{"transform":[{"filter":"isValid(datum.g)"}],"mark":{"type":"point","filled":true,"size":18,"opacity":1},
"encoding":{"x":{"field":"t","type":"quantitative","axis":{"title":"exercise time, s","values":[0,50,100,150,200,250,300],"tickCount":20,"labelOverlap":false}},"y":{"field":"v","type":"quantitative","axis":{"title":"mmol.l⁻¹","values":[0,5,15,20,25,30,35],"tickCount":20,"labelOverlap":false}},
"color":{"field":"g","type":"nominal","legend":{"title":null,"orient":"none","legendX":606,"legendY":33,"strokeColor":"#000","fillColor":"#fff","padding":4,"labelFontSize":11,"labelFontWeight":"bold","rowPadding":0,"symbolSize":30}},
"shape":{"field":"g","type":"nominal","scale":{"domain":["caffeine","placebo"],"range":["square","circle"]},"legend":{"title":null,"orient":"none","legendX":606,"legendY":33}}}}
]}
},
{
"data":{"name":"pi"},
"title":{"text":"B\u00a0\u00a0\u00a0\u00a0\u00a0Inorganic phosphate concentration: Pi","offset":2},
"facet":{"column":{"field":"s","type":"ordinal","title":null,"header":{"labelExpr":"'set ' + datum.value","labelFontSize":12,"labelFontWeight":"bold","labelPadding":10}}},
"spacing":1,
"bounds":"flush",
"spec":{
"width":133,"height":174,
"layer":[
{"transform":[{"filter":"datum.k == 'p'"}],"mark":{"type":"rule","color":"#000","strokeWidth":1},"encoding":{"x":{"datum":-25}}},
{"transform":[{"filter":"datum.box == 1"}],"mark":{"type":"rect","fill":"#fff","stroke":"#999","strokeWidth":1},"encoding":{"x":{"datum":308},"x2":{"datum":341}}},
{"transform":[{"filter":"datum.box == 1"}],"mark":{"type":"text","color":"#000","angle":270,"fontSize":9,"fontWeight":"bold","align":"center","baseline":"middle","text":"5-min rest"},"encoding":{"x":{"datum":324.5},"y":{"datum":16.8}}},
{"transform":[{"filter":"datum.bar == 1"}],"mark":{"type":"rule","color":"#555","strokeWidth":1},"encoding":{"x":{"datum":15},"x2":{"datum":262},"y":{"datum":26.4}}},
{"transform":[{"filter":"datum.k == 'p' && datum.sig != ''"}],"mark":{"type":"text","color":"#000","fontSize":12,"fontWeight":"bold","align":"center","baseline":"alphabetic"},"encoding":{"x":{"datum":145},"y":{"datum":26.85},"text":{"field":"sig"}}},
{"transform":[{"filter":"isValid(datum.g)"}],"mark":{"type":"errorbar","ticks":{"size":4},"rule":{"strokeWidth":0.8}},
"encoding":{"x":{"field":"t","type":"quantitative","scale":{"domain":[-25,341],"nice":false,"zero":false},"axis":{"title":"exercise time, s","values":[0,50,100,150,200,250,300],"tickCount":20,"labelOverlap":false}},
"y":{"field":"v","type":"quantitative","scale":{"domain":[0,27],"nice":false,"zero":false},"axis":{"title":"mmol.l⁻¹","values":[0,5,10,15,20,25],"tickCount":20,"labelOverlap":false,"grid":true,"gridColor":{"condition":{"test":"datum.value == 0","value":"transparent"},"value":"#777"}}},
"yError":{"field":"e"},
"color":{"field":"g","type":"nominal","scale":{"domain":["caffeine","placebo"],"range":["#000","#999"]}}}},
{"transform":[{"filter":"isValid(datum.g)"}],"mark":{"type":"point","filled":true,"size":18,"opacity":1},
"encoding":{"x":{"field":"t","type":"quantitative","axis":{"title":"exercise time, s","values":[0,50,100,150,200,250,300],"tickCount":20,"labelOverlap":false}},"y":{"field":"v","type":"quantitative","axis":{"title":"mmol.l⁻¹","values":[0,5,10,15,20,25],"tickCount":20,"labelOverlap":false}},
"color":{"field":"g","type":"nominal","legend":{"title":null,"orient":"none","legendX":591,"legendY":134,"strokeColor":"#000","fillColor":"#fff","padding":4,"labelFontSize":11,"labelFontWeight":"bold","rowPadding":0,"symbolSize":30}},
"shape":{"field":"g","type":"nominal","scale":{"domain":["caffeine","placebo"],"range":["square","circle"]},"legend":{"title":null,"orient":"none","legendX":591,"legendY":134}}}}
]}
},
{
"data":{"name":"ph"},
"title":{"text":"C\u00a0\u00a0\u00a0\u00a0\u00a0Muscle pH","offset":2},
"facet":{"column":{"field":"s","type":"ordinal","title":null,"header":{"labelExpr":"'set ' + datum.value","labelFontSize":12,"labelFontWeight":"bold","labelPadding":15}}},
"spacing":1,
"bounds":"flush",
"spec":{
"width":133,"height":174,
"layer":[
{"transform":[{"filter":"datum.k == 'p'"}],"mark":{"type":"rule","color":"#000","strokeWidth":1},"encoding":{"x":{"datum":-25}}},
{"transform":[{"filter":"datum.box == 1"}],"mark":{"type":"rect","fill":"#fff","stroke":"#999","strokeWidth":1},"encoding":{"x":{"datum":308},"x2":{"datum":341}}},
{"transform":[{"filter":"datum.box == 1"}],"mark":{"type":"text","color":"#000","angle":270,"fontSize":9,"fontWeight":"bold","align":"center","baseline":"middle","text":"5-min rest"},"encoding":{"x":{"datum":324.5},"y":{"datum":6.96}}},
{"transform":[{"filter":"datum.bar == 1"}],"mark":{"type":"rule","color":"#555","strokeWidth":1},"encoding":{"x":{"datum":15},"x2":{"datum":262},"y":{"datum":7.545}}},
{"transform":[{"filter":"datum.k == 'p' && datum.sig != ''"}],"mark":{"type":"text","color":"#000","fontSize":12,"fontWeight":"bold","align":"center","baseline":"alphabetic"},"encoding":{"x":{"datum":145},"y":{"datum":7.565},"text":{"field":"sig"}}},
{"transform":[{"filter":"datum.k == 'p'"}],"mark":{"type":"text","color":"#000","fontSize":8,"align":"center","baseline":"middle","text":"//"},"encoding":{"x":{"datum":-25},"y":{"datum":3.6}}},
{"transform":[{"filter":"isValid(datum.g)"}],"mark":{"type":"errorbar","ticks":{"size":4},"rule":{"strokeWidth":0.8}},
"encoding":{"x":{"field":"t","type":"quantitative","scale":{"domain":[-25,341],"nice":false,"zero":false},"axis":{"title":"exercise time, s","values":[0,50,100,150,200,250,300],"tickCount":20,"labelOverlap":false}},
"y":{"field":"v","type":"quantitative","scale":{"domain":[0,6.5,7.59],"range":[174,143,0],"nice":false,"zero":false},"axis":{"title":null,"values":[0,6.5,7,7.5],"tickCount":20,"labelOverlap":false,"labelExpr":"datum.value == 0 ? '0' : format(datum.value, '.1f')","grid":true,"gridColor":{"condition":{"test":"datum.value == 0","value":"transparent"},"value":"#777"}}},
"yError":{"field":"e"},
"color":{"field":"g","type":"nominal","scale":{"domain":["caffeine","placebo"],"range":["#000","#999"]}}}},
{"transform":[{"filter":"isValid(datum.g)"}],"mark":{"type":"point","filled":true,"size":18,"opacity":1},
"encoding":{"x":{"field":"t","type":"quantitative","axis":{"title":"exercise time, s","values":[0,50,100,150,200,250,300],"tickCount":20,"labelOverlap":false}},"y":{"field":"v","type":"quantitative","axis":{"title":null,"values":[0,6.5,7,7.5],"tickCount":20,"labelOverlap":false,"labelExpr":"datum.value == 0 ? '0' : format(datum.value, '.1f')"}},
"color":{"field":"g","type":"nominal","legend":{"title":null,"orient":"none","legendX":598,"legendY":13,"strokeColor":"#000","fillColor":"#fff","padding":4,"labelFontSize":11,"labelFontWeight":"bold","rowPadding":0,"symbolSize":30}},
"shape":{"field":"g","type":"nominal","scale":{"domain":["caffeine","placebo"],"range":["square","circle"]},"legend":{"title":null,"orient":"none","legendX":598,"legendY":13}}}}
]}
}
],
"spacing":26,
"resolve":{"scale":{"x":"independent","y":"independent","color":"independent","shape":"independent"}},
"config":{
"font":"Liberation Sans",
"view":{"stroke":null},
"title":{"fontSize":16,"fontWeight":"bold","anchor":"start","color":"#000"},
"axis":{"domainColor":"#000","tickColor":"#000","labelColor":"#000","titleColor":"#000","labelFontWeight":"bold","labelFontSize":10,"titleFontWeight":"bold","titleFontSize":10,"tickSize":3,"labelPadding":2,"gridDash":[1.5,2],"gridWidth":0.8,"labelOverlap":false,"labelBound":false},
"axisX":{"grid":false,"titlePadding":4,"labelPadding":1,"labelFontSize":9.5},
"axisY":{"titlePadding":4}
}
}
